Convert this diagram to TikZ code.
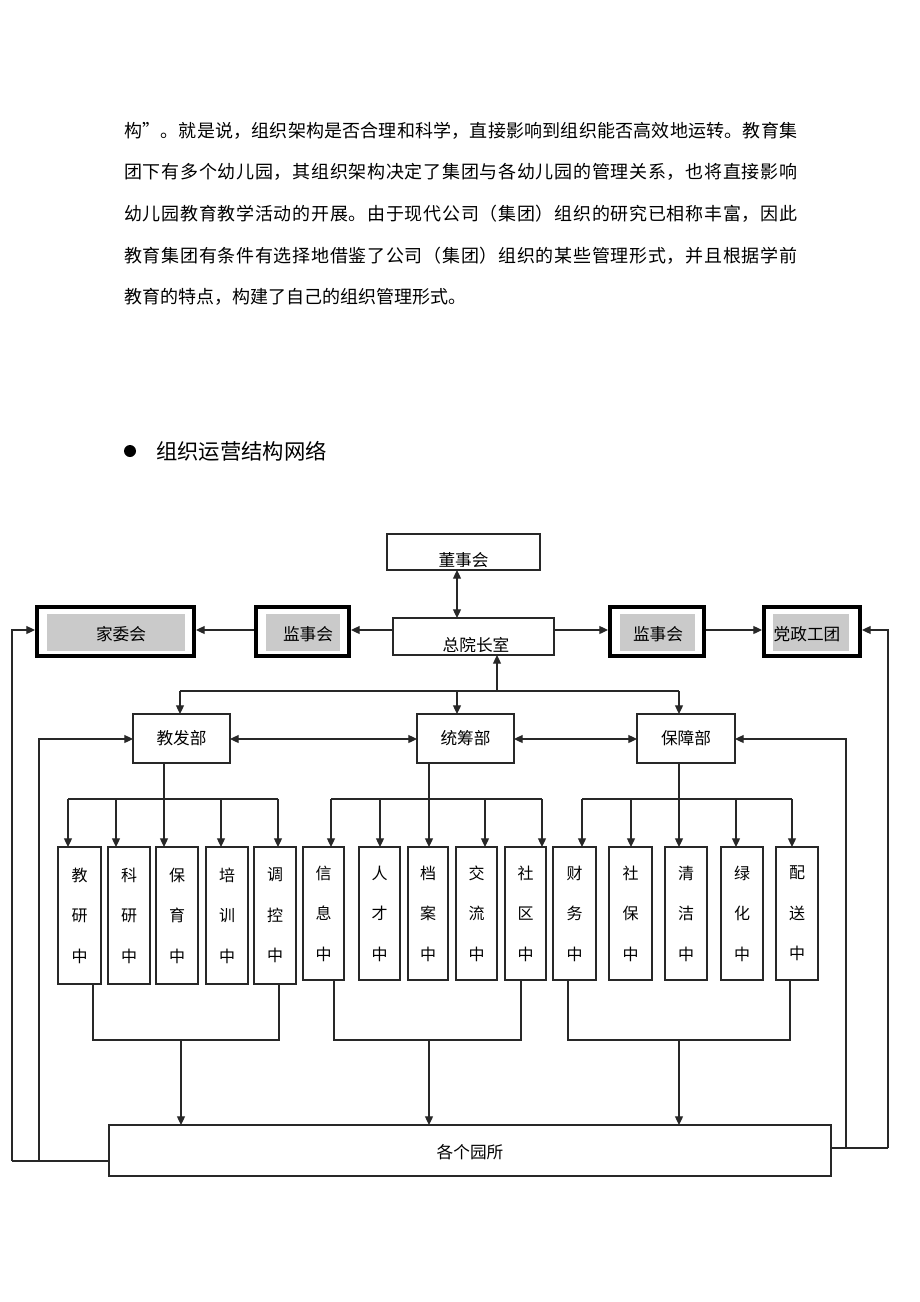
\documentclass[tikz,border=0pt]{standalone}
\usepackage{fontspec}
\setmainfont{Noto Sans CJK SC}
\usetikzlibrary{arrows.meta}
\def\spreadit#1{\ifx\relax#1\else #1\hskip 0pt plus 1fil\expandafter\spreadit\fi}
\newcommand\fullline[1]{\hbox to 504.75pt{\spreadit #1\relax\unskip}}
\definecolor{boxgray}{RGB}{202,202,202}
\definecolor{lncol}{RGB}{40,40,40}
\tikzset{
  sz/.style 2 args={minimum width={#1*0.75pt}, minimum height={#2*0.75pt}},
  ln/.style={draw=lncol, line width=0.9pt},
  arr/.style={ln, -{Triangle[length=6.5pt,width=6pt]}},
  darr/.style={ln, {Triangle[length=6.5pt,width=6pt]}-{Triangle[length=6.5pt,width=6pt]}},
  box/.style={draw=lncol, line width=0.9pt, inner sep=0pt, outer sep=0pt, font=\fontsize{12.5}{15}\selectfont},
  thickbox/.style={draw=black, line width=3pt, inner sep=0pt},
  grayin/.style={fill=boxgray, draw=none, inner sep=0pt},
  lbl/.style={inner sep=0pt, font=\fontsize{12.5}{15}\selectfont},
  colbox/.style={box, align=center, font=\fontsize{12}{30.4}\selectfont},
  para/.style={anchor=west, inner sep=0pt, font=\fontsize{13.5}{16}\selectfont}
}
\begin{document}
\begin{tikzpicture}[x=0.75pt,y=-0.75pt]
\fill[white] (0,0) rectangle (920,1302);
\useasboundingbox (0,0) rectangle (920,1302);

% paragraph
\node[para] (p1) at (124,131) {\fullline{构”。就是说，组织架构是否合理和科学，直接影响到组织能否高效地运转。教育集}};
\node[para] (p2) at (124,172) {\fullline{团下有多个幼儿园，其组织架构决定了集团与各幼儿园的管理关系，也将直接影响}};
\node[para] (p3) at (124,214) {\fullline{幼儿园教育教学活动的开展。由于现代公司（集团）组织的研究已相称丰富，因此}};
\node[para] (p4) at (124,256) {\fullline{教育集团有条件有选择地借鉴了公司（集团）组织的某些管理形式，并且根据学前}};
\node[para] (p5) at (124,297) {教育的特点，构建了自己的组织管理形式。};

% heading
\node[circle, fill=black, inner sep=0pt, minimum size=9pt] (bul) at (130,451) {};
\node[anchor=west, inner sep=0pt, font=\fontsize{16}{18}\selectfont] (head) at (156,451) {组织运营结构网络};

% top row
\node[box, sz={153}{36}] (dsh) at (463.5,552) {};
\begin{scope}
\clip (388,535) rectangle (539,566);
\node[lbl] (dshT) at (463.5,560) {董事会};
\end{scope}
\node[box, sz={161}{37}] (zy) at (473.5,636.5) {};
\begin{scope}
\clip (394,619) rectangle (553,651);
\node[lbl] (zyT) at (476,645) {总院长室};
\end{scope}

\node[grayin, sz={138}{37}] (jwhG) at (116,632.5) {};
\node[thickbox, sz={157}{49}] (jwh) at (115.5,631.5) {};
\node[lbl] (jwhT) at (121,634) {家委会};

\node[grayin, sz={74}{37}] (jsLG) at (303,632.5) {};
\node[thickbox, sz={93}{49}] (jsL) at (302.5,631.5) {};
\node[lbl] (jsLT) at (308,634) {监事会};

\node[grayin, sz={75}{37}] (jsRG) at (657.5,632.5) {};
\node[thickbox, sz={94}{49}] (jsR) at (657,631.5) {};
\node[lbl] (jsRT) at (658,634) {监事会};

\node[grayin, sz={76}{37}] (dzG) at (811,632.5) {};
\node[thickbox, sz={96}{49}] (dz) at (812,631.5) {};
\node[lbl] (dzT) at (807,634) {党政工团};

% departments
\node[box, sz={97}{49}] (jfb) at (181.5,738.5) {教发部};
\node[box, sz={97}{49}] (tcb) at (465.5,738.5) {统筹部};
\node[box, sz={98}{49}] (bzb) at (686,738.5) {保障部};

% centers
\node[colbox, sz={43}{137}] (c1) at (79.5,915.5) {教\\研\\中};
\node[colbox, sz={42}{137}] (c2) at (129,915.5) {科\\研\\中};
\node[colbox, sz={42}{137}] (c3) at (177,915.5) {保\\育\\中};
\node[colbox, sz={42}{137}] (c4) at (227,915.5) {培\\训\\中};
\node[colbox, sz={42}{137}] (c5) at (275,915.5) {调\\控\\中};
\node[colbox, sz={41}{133}] (c6) at (323.5,913.5) {信\\息\\中};
\node[colbox, sz={41}{133}] (c7) at (379.5,913.5) {人\\才\\中};
\node[colbox, sz={40}{133}] (c8) at (428,913.5) {档\\案\\中};
\node[colbox, sz={41}{133}] (c9) at (476.5,913.5) {交\\流\\中};
\node[colbox, sz={41}{133}] (c10) at (525.5,913.5) {社\\区\\中};
\node[colbox, sz={43}{133}] (c11) at (574.5,913.5) {财\\务\\中};
\node[colbox, sz={43}{133}] (c12) at (630.5,913.5) {社\\保\\中};
\node[colbox, sz={42}{133}] (c13) at (686,913.5) {清\\洁\\中};
\node[colbox, sz={42}{133}] (c14) at (742,913.5) {绿\\化\\中};
\node[colbox, sz={42}{133}] (c15) at (797,913.5) {配\\送\\中};

% bottom
\node[box, sz={722}{51}] (gs) at (470,1150.5) {};
\node[lbl] (gsT) at (470,1152) {各个园所};

% helper coordinates
\coordinate (Y630) at (0,630);
\coordinate (Y739) at (0,739);
\coordinate (X457) at (457,0);
\coordinate (b180) at (180,691);
\coordinate (b457) at (457,691);
\coordinate (b497) at (497,691);
\coordinate (b679) at (679,691);

% top connections
\draw[darr] (dsh.south -| X457) -- (zy.north -| X457);
\draw[arr] (zy.west |- Y630) -- (jsL.east |- Y630);
\draw[arr] (jsL.west |- Y630) -- (jwh.east |- Y630);
\draw[arr] (zy.east |- Y630) -- (jsR.west |- Y630);
\draw[arr] (jsR.east |- Y630) -- (dz.west |- Y630);

% bus to departments
\draw[ln] (b180) -- (b679);
\draw[arr] (b180) -- (b180 |- jfb.north);
\draw[arr] (b457) -- (b457 |- tcb.north);
\draw[arr] (b679) -- (b679 |- bzb.north);
\draw[arr] (b497) -- (b497 |- zy.south);

% departments mutual
\draw[darr] (jfb.east |- Y739) -- (tcb.west |- Y739);
\draw[darr] (tcb.east |- Y739) -- (bzb.west |- Y739);

% department buses
\coordinate (t1) at (164,799);
\coordinate (t2) at (429,799);
\coordinate (t3) at (679,799);
\draw[ln] (jfb.south -| t1) -- (t1);
\draw[ln] (tcb.south -| t2) -- (t2);
\draw[ln] (bzb.south -| t3) -- (t3);

\coordinate (d1) at (68,799);
\coordinate (d2) at (116,799);
\coordinate (d3) at (164,799);
\coordinate (d4) at (221,799);
\coordinate (d5) at (278,799);
\coordinate (d6) at (331,799);
\coordinate (d7) at (380,799);
\coordinate (d8) at (429,799);
\coordinate (d9) at (485,799);
\coordinate (d10) at (542,799);
\coordinate (d11) at (582,799);
\coordinate (d12) at (631,799);
\coordinate (d13) at (679,799);
\coordinate (d14) at (736,799);
\coordinate (d15) at (792,799);
\draw[ln] (d1) -- (d5);
\draw[ln] (d6) -- (d10);
\draw[ln] (d11) -- (d15);
\foreach \i in {1,...,15} {
  \draw[arr] (d\i) -- (d\i |- c\i.north);
}

% to 各个园所
\coordinate (e1) at (93,1040);
\coordinate (e2) at (279,1040);
\coordinate (m1) at (181,1040);
\coordinate (e3) at (334,1040);
\coordinate (e4) at (521,1040);
\coordinate (m2) at (429,1040);
\coordinate (e5) at (568,1040);
\coordinate (e6) at (790,1040);
\coordinate (m3) at (679,1040);
\draw[ln] (c1.south -| e1) -- (e1) -- (e2) -- (c5.south -| e2);
\draw[ln] (c6.south -| e3) -- (e3) -- (e4) -- (c10.south -| e4);
\draw[ln] (c11.south -| e5) -- (e5) -- (e6) -- (c15.south -| e6);
\draw[arr] (m1) -- (m1 |- gs.north);
\draw[arr] (m2) -- (m2 |- gs.north);
\draw[arr] (m3) -- (m3 |- gs.north);

% feedback loops
\coordinate (L1) at (12,1161);
\coordinate (L2) at (39,1161);
\coordinate (R1) at (888,1148);
\coordinate (R2) at (846,1148);
\draw[ln] (gs.west |- L1) -- (L1);
\draw[arr] (L1) -- (L1 |- Y630) -- (jwh.west |- Y630);
\draw[arr] (L2) -- (L2 |- Y739) -- (jfb.west |- Y739);
\draw[ln] (gs.east |- R1) -- (R1);
\draw[arr] (R1) -- (R1 |- Y630) -- (dz.east |- Y630);
\draw[arr] (R2) -- (R2 |- Y739) -- (bzb.east |- Y739);
\end{tikzpicture}
\end{document}
